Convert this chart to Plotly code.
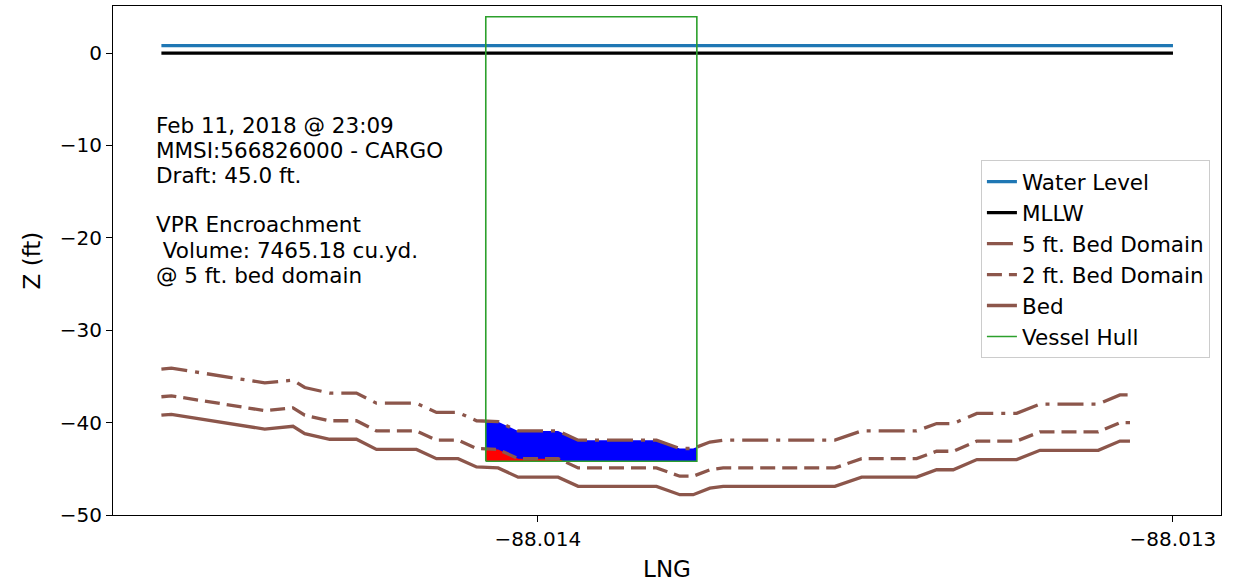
import numpy as np
import plotly.graph_objects as go

# ---- data ----
lng = [-88.0145926, -88.0145769, -88.0144299, -88.0143854, -88.0143669, -88.0143276,
       -88.0142855, -88.0142540, -88.0141910, -88.0141595, -88.0141255, -88.0140965,
       -88.0140625, -88.0140310, -88.0139680, -88.0139365, -88.0138131, -88.0137764,
       -88.0137554, -88.0137291, -88.0137082, -88.0135323, -88.0134902, -88.0134036,
       -88.0133721, -88.0133460, -88.0133087, -88.0132461, -88.0132094, -88.0131176,
       -88.0130835, -88.0130677]
bed = [-39.2, -39.1, -40.7, -40.4, -41.2, -41.8, -41.8, -42.9, -42.9, -43.9, -43.9, -44.8,
       -44.9, -45.9, -45.9, -46.9, -46.9, -47.8, -47.8, -47.1, -46.9, -46.9, -45.9, -45.9,
       -45.1, -45.1, -44.0, -44.0, -43.0, -43.0, -42.0, -42.0]
bed_2ft = [-37.2, -37.1, -38.7, -38.4, -39.2, -39.8, -39.8, -40.9, -40.9, -41.9, -41.9, -42.8,
           -42.9, -43.9, -43.9, -44.9, -44.9, -45.8, -45.8, -45.1, -44.9, -44.9, -43.9, -43.9,
           -43.1, -43.1, -42.0, -42.0, -41.0, -41.0, -40.0, -40.0]
bed_5ft = [-34.2, -34.1, -35.7, -35.4, -36.2, -36.8, -36.8, -37.9, -37.9, -38.9, -38.9, -39.8,
           -39.9, -40.9, -40.9, -41.9, -41.9, -42.8, -42.8, -42.1, -41.9, -41.9, -40.9, -40.9,
           -40.1, -40.1, -39.0, -39.0, -38.0, -38.0, -37.0, -37.0]

water_x = [-88.0145926, -88.0130]
water_level = [0.82, 0.82]
mllw = [0.0, 0.0]

hull_x = [-88.0140819, -88.0140819, -88.0137496, -88.0137496, -88.0140819]
hull_y = [-44.18, 3.93, 3.93, -44.18, -44.18]
hull_bottom = -44.18

x_ticks = [-88.014, -88.013]
y_ticks = [-50, -40, -30, -20, -10, 0]

info_lines = ["Feb 11, 2018 @ 23:09", "MMSI:566826000 - CARGO", "Draft: 45.0 ft.", "",
              "VPR Encroachment", "\u00a0Volume: 7465.18 cu.yd.", "@ 5 ft. bed domain"]

BROWN = "#8c564b"
FONT = "DejaVu Sans"


def region_above(xs, ys, x0, x1, floor):
    px = [x0] + [x for x in xs if x0 < x < x1] + [x1]
    py = list(np.interp(px, xs, ys))
    ox, oy = [], []
    for i in range(len(px)):
        if i > 0:
            a, b = py[i - 1] - floor, py[i] - floor
            if a * b < 0:
                t = a / (a - b)
                ox.append(px[i - 1] + t * (px[i] - px[i - 1]))
                oy.append(floor)
        ox.append(px[i])
        oy.append(max(py[i], floor))
    return ox + [x1, x0, x0], oy + [floor, floor, oy[0]]


fig = go.Figure()

bx, by = region_above(lng, bed_5ft, hull_x[0], hull_x[2], hull_bottom)
fig.add_trace(go.Scatter(x=bx, y=by, mode="lines", fill="toself", fillcolor="#0000ff",
                         line=dict(width=0, color="#0000ff"), showlegend=False, hoverinfo="skip"))
rx, ry = region_above(lng, bed_2ft, hull_x[0], hull_x[2], hull_bottom)
fig.add_trace(go.Scatter(x=rx, y=ry, mode="lines", fill="toself", fillcolor="#ff0000",
                         line=dict(width=0, color="#ff0000"), showlegend=False, hoverinfo="skip"))

fig.add_trace(go.Scatter(x=water_x, y=water_level, mode="lines", name="Water Level",
                         line=dict(color="#1f77b4", width=3.3)))
fig.add_trace(go.Scatter(x=water_x, y=mllw, mode="lines", name="MLLW",
                         line=dict(color="black", width=3.3)))
fig.add_trace(go.Scatter(x=lng, y=bed_5ft, mode="lines", name="5 ft. Bed Domain",
                         line=dict(color=BROWN, width=3.3, dash="26px,8px,4px,8px")))
fig.add_trace(go.Scatter(x=lng, y=bed_2ft, mode="lines", name="2 ft. Bed Domain",
                         line=dict(color=BROWN, width=3.3, dash="15px,7px")))
fig.add_trace(go.Scatter(x=lng, y=bed, mode="lines", name="Bed",
                         line=dict(color=BROWN, width=3.3)))
fig.add_trace(go.Scatter(x=hull_x, y=hull_y, mode="lines", name="Vessel Hull",
                         line=dict(color="#2ca02c", width=1.6)))

# info text, one annotation per line (plot area spans 6..515 px vertically)
for i, line in enumerate(info_lines):
    if not line:
        continue
    ypx = 125 + 25 * i
    fig.add_annotation(text=line, xref="paper", yref="paper",
                       x=0.037, y=(515 - ypx) / 509, xanchor="left", yanchor="middle",
                       align="left", showarrow=False,
                       font=dict(family=FONT, size=21.5, color="black"))

axis_common = dict(showline=True, linecolor="black", linewidth=1.2, mirror=True,
                   ticks="outside", ticklen=6, tickwidth=1.2, tickcolor="black",
                   showgrid=False, zeroline=False,
                   tickfont=dict(family=FONT, size=20, color="black"))

fig.update_layout(
    width=1241, height=583,
    margin=dict(l=113, r=20, t=6, b=68),
    paper_bgcolor="white", plot_bgcolor="white",
    font=dict(family=FONT, color="black"),
    xaxis=dict(range=[-88.0146688, -88.0129244], tickvals=x_ticks, tickformat=".3f",
               title=dict(text="LNG", font=dict(size=23), standoff=10), **axis_common),
    yaxis=dict(range=[-50, 5.1], tickvals=y_ticks,
               title=dict(text="Z (ft)", font=dict(size=23), standoff=12), **axis_common),
    legend=dict(x=0.99, y=0.697, xanchor="right", yanchor="top",
                bgcolor="white", bordercolor="#cccccc", borderwidth=1,
                font=dict(family=FONT, size=21.5, color="black"),
                tracegroupgap=0),
    showlegend=True,
)

fig.write_html("out.html")
